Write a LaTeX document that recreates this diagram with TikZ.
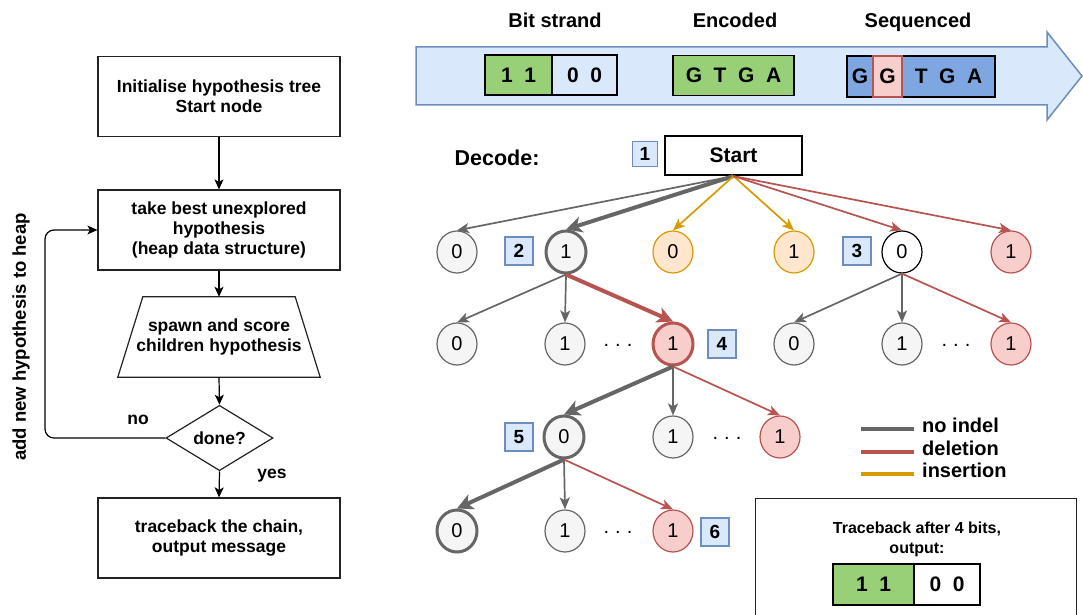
\documentclass[tikz,border=0pt]{standalone}
\usepackage{fontspec}
\setmainfont{Liberation Sans}
\usetikzlibrary{arrows.meta,shapes.geometric}
\definecolor{dgray}{HTML}{666666}
\definecolor{lgray}{HTML}{F5F5F5}
\definecolor{dred}{HTML}{B85450}
\definecolor{lred}{HTML}{F8CECC}
\definecolor{dorange}{HTML}{D79B00}
\definecolor{lorange}{HTML}{FFE6CC}
\definecolor{dblue}{HTML}{6C8EBF}
\definecolor{lblue}{HTML}{DAE8FC}
\definecolor{bitgreen}{HTML}{97D077}
\definecolor{seqblue}{HTML}{7EA6E0}
\definecolor{boxline}{HTML}{222222}
\newcommand{\bitgap}{\hspace{0.55em}}
\newcommand{\fs}[1]{\fontsize{#1pt}{#1pt}\selectfont}
\begin{document}
\begin{tikzpicture}[x=1pt,y=-1pt,
  flowfont/.style={font=\fontsize{17.5pt}{20pt}\selectfont\bfseries},
  flowbox/.style={draw=boxline, line width=1.2pt, minimum width=242pt, minimum height=80pt, align=center, inner sep=0pt, flowfont},
  flowarr/.style={draw=black, line width=1.2pt, -{Stealth[length=10pt,width=9pt,inset=2.5pt]}},
  hyp/.style={ellipse, minimum width=40pt, minimum height=42pt, inner sep=0pt, line width=1.2pt, draw=dgray, fill=lgray, font=\fs{20}},
  hred/.style={hyp, draw=dred, fill=lred},
  horange/.style={hyp, draw=dorange, fill=lorange},
  hwhite/.style={hyp, draw=black, fill=white},
  heavy/.style={line width=3pt},
  numlab/.style={draw=dblue, fill=lblue, line width=1.2pt, minimum size=28pt, inner sep=0pt, font=\fs{19}\bfseries},
  dotsl/.style={font=\fs{20}},
  tipthin/.style={-{Stealth[length=12pt,width=10pt,inset=3pt]}},
  tipthick/.style={-{Stealth[length=16pt,width=16pt,inset=4.5pt]}},
  egray/.style={draw=dgray, line width=1.7pt, tipthin},
  egrayT/.style={draw=dgray, line width=4pt, tipthick},
  ered/.style={draw=dred, line width=1.7pt, tipthin},
  eredT/.style={draw=dred, line width=4pt, tipthick},
  eorange/.style={draw=dorange, line width=1.7pt, tipthin},
  bitcell/.style={draw=black, line width=1.5pt, minimum height=40pt, inner sep=0pt, font=\fs{21}\bfseries},
  head/.style={font=\fs{20}\bfseries, anchor=base, inner sep=0pt},
  legtext/.style={font=\fs{20}\bfseries, anchor=base west, inner sep=0pt}
]
\useasboundingbox (0,0) rectangle (1083,615);
\fill[white] (0,0) rectangle (1083,615);
\clip (0,0) rectangle (1083,615);

% ---------- top strand arrow ----------
\draw[draw=dblue, fill=lblue, line width=1.5pt, line join=miter]
  (416,47) -- (1047,47) -- (1047,32) -- (1082,76) -- (1047,120) -- (1047,105) -- (416,105) -- cycle;
\node[head] (hBit) at (555,28) {Bit strand};
\node[head] (hEnc) at (735,28) {Encoded};
\node[head] (hSeq) at (918,28) {Sequenced};

\node[bitcell, fill=bitgreen, minimum width=67pt] (b11) at (518.5,75) {1\bitgap1};
\node[bitcell, minimum width=65pt] (b00) at (584.5,75) {0\bitgap0};
\node[bitcell, fill=bitgreen, minimum width=121pt] (enc) at (733.5,75.5) {G\bitgap T\bitgap G\bitgap A};
\node[bitcell, fill=seqblue, minimum width=148pt, minimum height=41pt] (seq) at (921,76.5) {};
\node[font=\fs{21}\bfseries, inner sep=0pt] (sG1) at (860,76.5) {G};
\node[draw=dred, fill=lred, line width=1.5pt, minimum width=29pt, minimum height=41pt, inner sep=0pt, font=\fs{21}\bfseries] (sG2) at (887.5,76.5) {G};
\node[font=\fs{21}\bfseries, inner sep=0pt] (sTGA) at (948.5,76.5) {T\bitgap G\bitgap A};

% ---------- flowchart ----------
\node[flowbox] (init) at (219,96.5) {Initialise hypothesis tree\\Start node};
\node[flowbox] (take) at (219,230) {take best unexplored\\hypothesis\\(heap data structure)};
\node[flowfont, align=center, minimum width=202pt, minimum height=80pt, inner sep=0pt] (spawn) at (219,337) {spawn and score\\children hypothesis};
\draw[draw=boxline, line width=1.2pt] ([xshift=25pt]spawn.north west) -- ([xshift=-25pt]spawn.north east) -- (spawn.south east) -- (spawn.south west) -- cycle;
\node[diamond, draw=boxline, line width=1.2pt, minimum width=107pt, minimum height=65pt, inner sep=0pt, flowfont] (done) at (219.5,438) {done?};
\node[flowbox] (trace) at (219,538) {traceback the chain,\\output message};

\draw[flowarr] (init) -- (take);
\draw[flowarr] (take.south) -- (spawn.north);
\draw[flowarr] (spawn.south) -- (done.north);
\draw[flowarr] (done.south) -- (trace.north);
\coordinate (loopA) at (45,438);
\coordinate (loopB) at (45,230);
\draw[flowarr, rounded corners=9pt] (done.west) -- (loopA) -- (loopB) -- (take.west);
\node[flowfont, anchor=base, inner sep=0pt] (lno) at (138,424) {no};
\node[flowfont, anchor=base, inner sep=0pt] (lyes) at (272,478) {yes};
\node[font=\fs{18.5}\bfseries, rotate=90, inner sep=0pt] (addl) at (21,337) {add new hypothesis to heap};

% ---------- decode tree ----------
\node[font=\fs{21.5}\bfseries, anchor=base, inner sep=0pt] (dec) at (497,165) {Decode:};
\node[numlab, minimum size=25pt] (lab1) at (645,154) {1};
\node[draw=black, line width=2.2pt, minimum width=137pt, minimum height=39pt, inner sep=0pt, font=\fs{21}\bfseries] (start) at (733.5,155.5) {Start};

% level 1
\node[hyp] (n1a) at (457,252) {0};
\node[numlab] (lab2) at (519,251) {2};
\node[hyp, heavy] (n1b) at (566,252) {1};
\node[horange] (n1c) at (673,252) {0};
\node[horange] (n1d) at (794,252) {1};
\node[numlab] (lab3) at (857,251) {3};
\node[hwhite] (n1e) at (902,252) {0};
\node[hred] (n1f) at (1011,252) {1};

% level 2
\node[hyp] (n2a) at (457,344) {0};
\node[hyp] (n2b) at (565,344) {1};
\node[dotsl] (d2a) at (618,345) {.\hspace{0.3em}.\hspace{0.3em}.};
\node[hred, heavy] (n2c) at (673,344) {1};
\node[numlab] (lab4) at (722,344) {4};
\node[hyp] (n2d) at (794,344) {0};
\node[hyp] (n2e) at (902,344) {1};
\node[dotsl] (d2b) at (956,345) {.\hspace{0.3em}.\hspace{0.3em}.};
\node[hred] (n2f) at (1011,344) {1};

% level 3
\node[numlab] (lab5) at (519,437) {5};
\node[hyp, heavy] (n3a) at (564,437) {0};
\node[hyp] (n3b) at (673,437) {1};
\node[dotsl] (d3) at (727,438) {.\hspace{0.3em}.\hspace{0.3em}.};
\node[hred] (n3c) at (780,437) {1};

% level 4
\node[hyp, heavy] (n4a) at (457,531) {0};
\node[hyp] (n4b) at (565,531) {1};
\node[dotsl] (d4) at (618,532) {.\hspace{0.3em}.\hspace{0.3em}.};
\node[hred] (n4c) at (673,531) {1};
\node[numlab] (lab6) at (715,532) {6};

% edges from start
\draw[egray] (start.south) -- (n1a.north);
\draw[egrayT] (start.south) -- (n1b.north);
\draw[eorange] (start.south) -- (n1c.north);
\draw[eorange] (start.south) -- (n1d.north);
\draw[ered] (start.south) -- (n1e.north);
\draw[ered] (start.south) -- (n1f.north);
% from n1b
\draw[egray] (n1b.south) -- (n2a.north);
\draw[egray] (n1b.south) -- (n2b.north);
\draw[eredT] (n1b.south) -- (n2c.north);
% from n1e
\draw[egray] (n1e.south) -- (n2d.north);
\draw[egray] (n1e.south) -- (n2e.north);
\draw[ered] (n1e.south) -- (n2f.north);
% from n2c
\draw[egrayT] (n2c.south) -- (n3a.north);
\draw[egray] (n2c.south) -- (n3b.north);
\draw[ered] (n2c.south) -- (n3c.north);
% from n3a
\draw[egrayT] (n3a.south) -- (n4a.north);
\draw[egray] (n3a.south) -- (n4b.north);
\draw[ered] (n3a.south) -- (n4c.north);

% ---------- legend ----------
\coordinate (lg1a) at (861,429); \coordinate (lg1b) at (914,429);
\coordinate (lg2a) at (861,452); \coordinate (lg2b) at (914,452);
\coordinate (lg3a) at (861,474); \coordinate (lg3b) at (914,474);
\draw[draw=dgray, line width=4pt] (lg1a) -- (lg1b);
\draw[draw=dred, line width=4pt] (lg2a) -- (lg2b);
\draw[draw=dorange, line width=4pt] (lg3a) -- (lg3b);
\node[legtext] (lt1) at (922,432) {no indel};
\node[legtext] (lt2) at (922,455) {deletion};
\node[legtext] (lt3) at (922,477) {insertion};

% ---------- traceback box ----------
\node[draw=boxline, line width=1.2pt, minimum width=321pt, minimum height=140pt, anchor=north west, inner sep=0pt] (tb) at (755,498) {};
\node[font=\fontsize{16pt}{20pt}\selectfont\bfseries, align=center, inner sep=0pt] (tbtext) at (917,539) {Traceback after 4 bits,\\output:};
\node[bitcell, fill=bitgreen, minimum width=81pt, minimum height=41pt] (o11) at (873.5,584.5) {1\bitgap1};
\node[bitcell, fill=white, minimum width=66pt, minimum height=41pt] (o00) at (947,584.5) {0\bitgap0};
\end{tikzpicture}
\end{document}
